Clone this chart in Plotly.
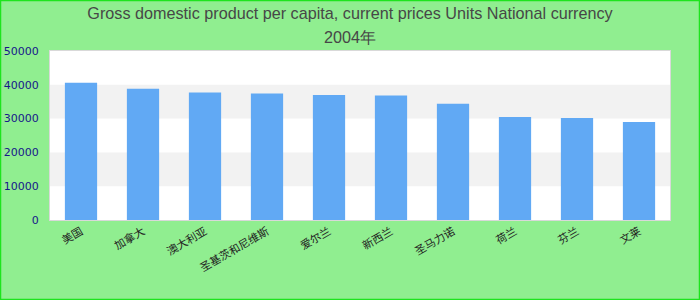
import plotly.graph_objects as go

categories = ["美国", "加拿大", "澳大利亚", "圣基茨和尼维斯", "爱尔兰", "新西兰", "圣马力诺", "荷兰", "芬兰", "文莱"]
values = [40600, 38800, 37700, 37400, 37000, 36800, 34400, 30500, 30200, 29000]
y_ticks = [0, 10000, 20000, 30000, 40000, 50000]
title_line1 = "Gross domestic product per capita, current prices Units National currency"
title_line2 = "2004年"

W, H = 700, 300
ml, mr, mt, mb = 50, 30, 51, 80
pw, ph = W - ml - mr, H - mt - mb

title_font = dict(family="Arial, Liberation Sans", size=16.2, color="#474747")

fig = go.Figure(go.Bar(
    x=categories, y=values,
    marker=dict(color="#61a9f4", line=dict(width=0)),
    hoverinfo="x+y",
))

shapes = []
# alternating bands
for i in range(len(y_ticks) - 1):
    if i % 2 == 1:
        shapes.append(dict(type="rect", xref="paper", yref="y", x0=0, x1=1,
                           y0=y_ticks[i], y1=y_ticks[i + 1],
                           fillcolor="#f2f2f2", line=dict(width=0), layer="below"))
# outer border
shapes.append(dict(type="rect", xref="paper", yref="paper",
                   x0=(0.5 - ml) / pw, x1=(W - 0.5 - ml) / pw,
                   y0=-(mb - 0.5) / ph, y1=1 + (mt - 0.5) / ph,
                   line=dict(color="#1ee41e", width=1.5), fillcolor="rgba(0,0,0,0)"))

fig.update_layout(
    width=W, height=H,
    margin=dict(l=ml, r=mr, t=mt, b=mb, pad=0),
    paper_bgcolor="#90ee90",
    plot_bgcolor="#ffffff",
    bargap=0.48,
    showlegend=False,
    shapes=shapes,
    title=dict(
        text=title_line1,
        x=0.5, xanchor="center", y=1 - 13 / H, yanchor="middle",
        font=title_font,
    ),
    annotations=[dict(
        text=title_line2, xref="paper", yref="paper",
        x=(W / 2 - ml) / pw, y=1 + (mt - 37) / ph,
        xanchor="center", yanchor="middle", showarrow=False,
        font=title_font,
    )],
    xaxis=dict(
        tickangle=-30,
        tickfont=dict(family="Noto Sans CJK SC", size=11, color="#222222"),
        showgrid=False, showline=True, linecolor="#d9d9d9", linewidth=1, mirror=True,
        ticks="", fixedrange=True, automargin=False,
    ),
    yaxis=dict(
        range=[0, 50000], tickvals=y_ticks, tickformat="d",
        tickfont=dict(family="DejaVu Sans", size=11, color="#16168a"),
        showgrid=False, zeroline=False, showline=True, linecolor="#d9d9d9", linewidth=1, mirror=True,
        ticks="outside", ticklen=8, tickcolor="rgba(0,0,0,0)",
        fixedrange=True, automargin=False,
    ),
)

fig.write_html("out.html")
